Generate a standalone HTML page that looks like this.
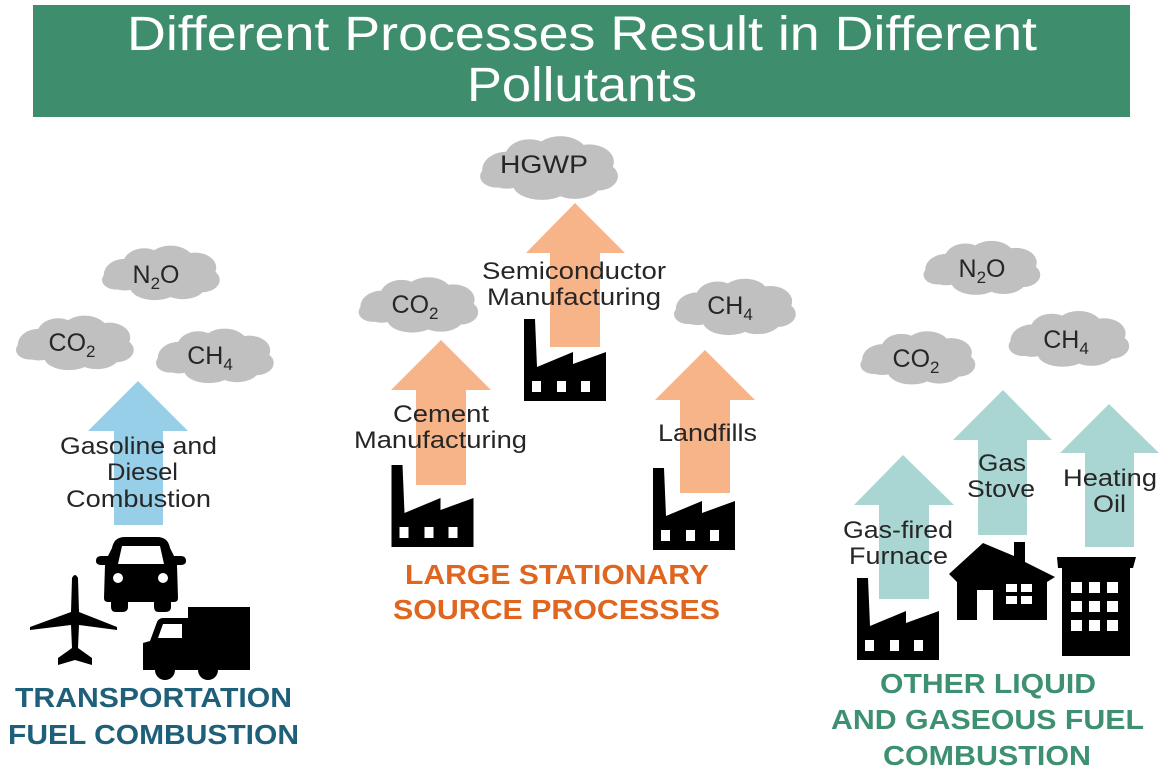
<!DOCTYPE html>
<html><head><meta charset="utf-8"><style>
body{margin:0;background:#fff}
svg{display:block}
text{font-family:"Liberation Sans",Arial,sans-serif}
</style></head><body>
<svg width="1167" height="773" viewBox="0 0 1167 773" xmlns="http://www.w3.org/2000/svg">
<defs>
<symbol id="cloud" viewBox="0 0 140 66">
<g fill="#c0c0c0">
<ellipse cx="30" cy="36" rx="24" ry="18"/>
<ellipse cx="52" cy="24" rx="24" ry="18"/>
<ellipse cx="82" cy="20" rx="26" ry="17"/>
<ellipse cx="110" cy="28" rx="24" ry="17"/>
<ellipse cx="118" cy="42" rx="20" ry="14"/>
<ellipse cx="96" cy="48" rx="26" ry="16"/>
<ellipse cx="64" cy="50" rx="28" ry="15"/>
<ellipse cx="20" cy="42" rx="16" ry="11"/>
<ellipse cx="70" cy="36" rx="50" ry="20"/>
</g>
</symbol>
<symbol id="factory" viewBox="0 0 82 82">
<path d="M0,0 H11 L13,48 L49,33 V45 L82,33 V82 H0 Z" fill="#000"/>
<g fill="#fff"><rect x="8" y="62" width="9" height="11"/><rect x="33" y="62" width="9" height="11"/><rect x="57" y="62" width="9" height="11"/></g>
</symbol>
</defs>

<rect x="33" y="5" width="1097" height="112" fill="#3e8d6d"/>
<text x="127" y="50" font-size="48" fill="#fff" textLength="910" lengthAdjust="spacingAndGlyphs">Different Processes Result in Different</text>
<text x="467" y="101" font-size="48" fill="#fff" textLength="230" lengthAdjust="spacingAndGlyphs">Pollutants</text>

<!-- clouds -->
<use href="#cloud" x="476" y="133" width="144" height="68"/>
<use href="#cloud" x="98" y="243" width="124" height="58"/>
<use href="#cloud" x="12" y="313" width="124" height="58"/>
<use href="#cloud" x="150" y="326" width="128" height="58"/>
<use href="#cloud" x="355" y="274" width="125" height="60"/>
<use href="#cloud" x="670" y="276" width="128" height="60"/>
<use href="#cloud" x="920" y="238" width="122" height="58"/>
<use href="#cloud" x="857" y="328" width="120" height="58"/>
<use href="#cloud" x="1005" y="308" width="126" height="60"/>

<g font-size="25" fill="#262626" text-anchor="middle">
<text x="544" y="173" textLength="88" lengthAdjust="spacingAndGlyphs">HGWP</text>
<text x="156" y="283">N<tspan font-size="17" dy="6">2</tspan><tspan dy="-6">O</tspan></text>
<text x="72" y="351">CO<tspan font-size="17" dy="6">2</tspan></text>
<text x="210" y="364">CH<tspan font-size="17" dy="6">4</tspan></text>
<text x="415" y="313">CO<tspan font-size="17" dy="6">2</tspan></text>
<text x="730" y="314">CH<tspan font-size="17" dy="6">4</tspan></text>
<text x="982" y="277">N<tspan font-size="17" dy="6">2</tspan><tspan dy="-6">O</tspan></text>
<text x="916" y="367">CO<tspan font-size="17" dy="6">2</tspan></text>
<text x="1066" y="348">CH<tspan font-size="17" dy="6">4</tspan></text>
</g>

<!-- arrows -->
<path d="M138,381 L188,431 H163 V525 H114 V431 H88 Z" fill="#98cfe8"/>
<path d="M441,340 L491,390 H466 V485 H416 V390 H391 Z" fill="#f8b489"/>
<path d="M575,203 L625,253 H600 V347 H550 V253 H526 Z" fill="#f8b489"/>
<path d="M705,350 L755,400 H730 V493 H680 V400 H655 Z" fill="#f8b489"/>
<path d="M903,455 L954,505 H929 V599 H879 V505 H854 Z" fill="#a9d6d2"/>
<path d="M1003,390 L1052,440 H1027 V535 H978 V440 H953 Z" fill="#a9d6d2"/>
<path d="M1109,404 L1159,453 H1134 V547 H1085 V453 H1060 Z" fill="#a9d6d2"/>

<!-- factories -->
<use href="#factory" x="391" y="465" width="83" height="82"/>
<use href="#factory" x="524" y="319" width="82" height="82"/>
<use href="#factory" x="653" y="468" width="82" height="82"/>
<use href="#factory" x="857" y="578" width="82" height="82"/>

<!-- house -->
<path d="M949,574 L983,543 L1014,556 V542 H1025 V562 L1055,577 L1047,582 V620 H993 V590 H977 V620 H957 V582 Z" fill="#000"/>
<g fill="#fff"><rect x="1006" y="584" width="11" height="8"/><rect x="1021" y="584" width="11" height="8"/><rect x="1006" y="596" width="11" height="8"/><rect x="1021" y="596" width="11" height="8"/></g>
<!-- building -->
<path d="M1057,557 H1136 L1133,568 H1130 V656 H1062 V568 H1058 Z" fill="#000"/>
<g fill="#fff">
<rect x="1071" y="582" width="11" height="11"/><rect x="1089" y="582" width="11" height="11"/><rect x="1107" y="582" width="11" height="11"/>
<rect x="1071" y="601" width="11" height="11"/><rect x="1089" y="601" width="11" height="11"/><rect x="1107" y="601" width="11" height="11"/>
<rect x="1071" y="620" width="11" height="11"/><rect x="1089" y="620" width="11" height="11"/><rect x="1107" y="620" width="11" height="11"/>
</g>

<!-- car -->
<path d="M112,548 Q114,537 125,537 H157 Q168,537 170,548 L174,556 H181 Q186,556 186,561 Q186,565 180,565 H177 L178,598 Q178,602 174,602 H171 V607 Q171,612 165,612 H159 Q154,612 154,607 V602 H128 V607 Q128,612 122,612 H116 Q111,612 111,607 V602 H108 Q104,602 104,598 L105,565 H102 Q96,565 96,561 Q96,556 101,556 H108 Z" fill="#000"/>
<path d="M122,546 H160 L164,564 H118 Z" fill="#fff"/>
<circle cx="118" cy="578" r="5" fill="#fff"/><circle cx="163" cy="578" r="5" fill="#fff"/>
<!-- plane -->
<path d="M72,578 Q75,572 78,578 L79,612 L117,627 V630 L79,625 L78,648 L92,658 V665 L75,660 L58,665 V658 L72,648 L71,625 L30,630 V627 L71,612 Z" fill="#000"/>
<!-- truck -->
<path d="M188,607 H250 V670 H218 A10,10 0 0 1 198,670 H175 A10,10 0 0 1 155,670 H143 V643 L150,641 L157,622 Q159,618 163,618 H188 Z" fill="#000"/>
<circle cx="165" cy="671" r="8" fill="#000"/><circle cx="208" cy="671" r="8" fill="#000"/>
<path d="M163,624 H182 V638 H158 Z" fill="#fff"/>

<!-- labels -->
<g font-size="24" fill="#262626">
<text x="60" y="454" textLength="157" lengthAdjust="spacingAndGlyphs">Gasoline and</text>
<text x="107" y="480" textLength="71" lengthAdjust="spacingAndGlyphs">Diesel</text>
<text x="66" y="507" textLength="145" lengthAdjust="spacingAndGlyphs">Combustion</text>
<text x="393" y="422" textLength="96" lengthAdjust="spacingAndGlyphs">Cement</text>
<text x="354" y="448" textLength="173" lengthAdjust="spacingAndGlyphs">Manufacturing</text>
<text x="482" y="279" textLength="184" lengthAdjust="spacingAndGlyphs">Semiconductor</text>
<text x="487" y="305" textLength="174" lengthAdjust="spacingAndGlyphs">Manufacturing</text>
<text x="658" y="441" textLength="99" lengthAdjust="spacingAndGlyphs">Landfills</text>
<text x="843" y="538" textLength="110" lengthAdjust="spacingAndGlyphs">Gas-fired</text>
<text x="849" y="564" textLength="99" lengthAdjust="spacingAndGlyphs">Furnace</text>
<text x="978" y="471" textLength="48" lengthAdjust="spacingAndGlyphs">Gas</text>
<text x="967" y="497" textLength="68" lengthAdjust="spacingAndGlyphs">Stove</text>
<text x="1063" y="486" textLength="94" lengthAdjust="spacingAndGlyphs">Heating</text>
<text x="1093" y="512" textLength="33" lengthAdjust="spacingAndGlyphs">Oil</text>
</g>
<g font-size="28" font-weight="bold">
<text x="15" y="707" fill="#1e5f7a" textLength="277" lengthAdjust="spacingAndGlyphs">TRANSPORTATION</text>
<text x="8" y="744" fill="#1e5f7a" textLength="291" lengthAdjust="spacingAndGlyphs">FUEL COMBUSTION</text>
<text x="405" y="584" fill="#e0651e" textLength="304" lengthAdjust="spacingAndGlyphs">LARGE STATIONARY</text>
<text x="393" y="619" fill="#e0651e" textLength="327" lengthAdjust="spacingAndGlyphs">SOURCE PROCESSES</text>
<text x="880" y="693" fill="#3d9070" textLength="216" lengthAdjust="spacingAndGlyphs">OTHER LIQUID</text>
<text x="831" y="729" fill="#3d9070" textLength="313" lengthAdjust="spacingAndGlyphs">AND GASEOUS FUEL</text>
<text x="883" y="765" fill="#3d9070" textLength="208" lengthAdjust="spacingAndGlyphs">COMBUSTION</text>
</g>
</svg>
</body></html>
